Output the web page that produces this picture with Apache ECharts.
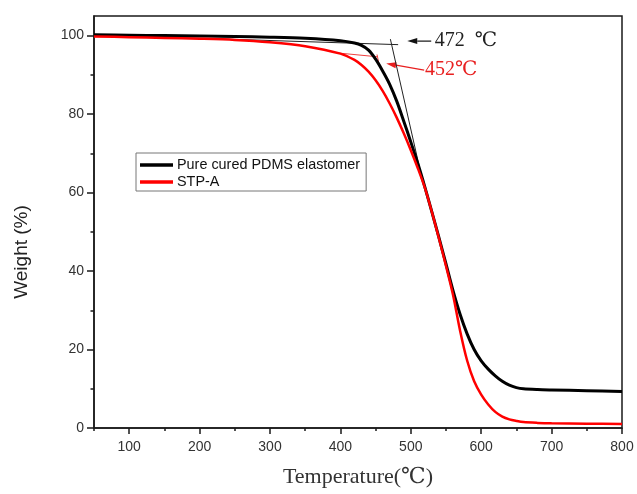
<!DOCTYPE html>
<html>
<head>
<meta charset="utf-8">
<script src="https://cdn.jsdelivr.net/npm/echarts@6/dist/echarts.min.js"></script>
<style>
html,body{margin:0;padding:0;background:#fff;}
#chart{width:637px;height:494px;}
</style>
</head>
<body>
<div id="chart"></div>
<script>
// ---- data ----
const temps = [50,100,150,200,250,300,350,400,420,430,440,450,460,470,480,490,500,510,520,530,540,550,560,570,580,590,600,610,620,630,640,650,660,680,700,750,800];
const pdms  = [100.2,100.1,100.0,99.9,99.8,99.6,99.3,98.7,98.1,97.5,96.3,94.0,91.0,87.6,83.3,78.2,72.9,67.4,61.4,55.0,48.5,41.8,35.0,29.0,24.0,20.0,17.1,15.0,13.3,11.9,10.9,10.3,10.0,9.8,9.7,9.5,9.3];
const stpa  = [99.8,99.6,99.4,99.2,98.9,98.3,97.3,95.4,93.8,92.5,90.8,88.6,85.9,82.7,79.1,75.1,70.8,66.2,61.2,55.0,48.3,41.3,33.9,24.8,17.2,11.9,8.5,6.0,4.1,2.9,2.2,1.8,1.5,1.3,1.2,1.1,1.0];
const seriesNames = ['Pure cured PDMS elastomer', 'STP-A'];

const xTicks = [100,200,300,400,500,600,700,800];
const xMinorTicks = [50,150,250,350,450,550,650,750];
const yTicks = [0,20,40,60,80,100];
const yMinorTicks = [10,30,50,70,90];

// onset tangent constructions
const pdmsTangentA = [[50,100.2],[482,97.7]];
const pdmsTangentB = [[471,99.1],[516,63.5]];
const stpaTangentA = [[395,95.6],[453,94.6]];
const stpaTangentB = [[452,95.2],[456,91.8]];

// onset annotations: [x, y] in data units
const pdmsOnsetText = '472  ℃';
const stpaOnsetText = '452℃';
const pdmsArrow = [[529,98.6],[495,98.6]];
const stpaArrow = [[519,91.2],[465,92.9]];
const pdmsTextPos = [534,98.8];
const stpaTextPos = [520,91.2];

// ---- build ----
const toPairs = (xs, ys) => xs.map((x, i) => [x, ys[i]]);
const chart = echarts.init(document.getElementById('chart'), null, {renderer: 'canvas'});

const axisColor = '#1a1a1a';
const labelFont = {fontFamily: 'Liberation Sans, Arial, sans-serif', fontSize: 14, color: '#333'};

const option = {
  animation: false,
  backgroundColor: '#fff',
  grid: {left: 94, right: 15, top: 16, bottom: 66, show: true, borderColor: axisColor, borderWidth: 1.5, backgroundColor: 'transparent'},
  legend: {
    data: seriesNames,
    orient: 'vertical',
    left: 136, top: 153,
    itemWidth: 33, itemHeight: 10, itemGap: 3,
    padding: [5, 6, 2, 4],
    borderColor: '#777', borderWidth: 1,
    icon: 'path://M0,0 L10,0 L10,1 L0,1 Z',
    textStyle: {fontFamily: 'Liberation Sans, Arial, sans-serif', fontSize: 14.4, color: '#111', padding: [0,0,0,-1]}
  },
  xAxis: [{
    type: 'value', min: 50, max: 800, position: 'bottom',
    name: 'Temperature(℃)', nameLocation: 'middle', nameGap: 38,
    nameTextStyle: {fontFamily: 'Liberation Serif, DejaVu Serif, serif', fontSize: 22, color: '#333'},
    axisLine: {show: true, onZero: false, lineStyle: {color: axisColor, width: 1.5}},
    axisTick: {show: true, inside: false, length: 6, customValues: xTicks, lineStyle: {color: axisColor, width: 1.5}},
    axisLabel: Object.assign({customValues: xTicks, margin: 12}, labelFont),
    splitLine: {show: false}
  }, {
    type: 'value', min: 50, max: 800, position: 'bottom',
    axisLine: {show: false},
    axisTick: {show: true, inside: false, length: 3, customValues: xMinorTicks, lineStyle: {color: axisColor, width: 1.5}},
    axisLabel: {show: false},
    splitLine: {show: false}
  }],
  yAxis: [{
    type: 'value', min: 0, max: 105, position: 'left',
    axisLine: {show: true, onZero: false, lineStyle: {color: axisColor, width: 1.5}},
    axisTick: {show: true, inside: false, length: 7, customValues: yTicks, lineStyle: {color: axisColor, width: 1.5}},
    axisLabel: Object.assign({customValues: yTicks, margin: 10}, labelFont),
    splitLine: {show: false}
  }, {
    type: 'value', min: 0, max: 105, position: 'left',
    axisLine: {show: false},
    axisTick: {show: true, inside: false, length: 3.5, customValues: yMinorTicks, lineStyle: {color: axisColor, width: 1.5}},
    axisLabel: {show: false},
    splitLine: {show: false}
  }],
  series: [
    {name: 'tA', type: 'line', data: pdmsTangentA, showSymbol: false, silent: true, lineStyle: {color: '#222', width: 1}, z: 1},
    {name: 'tB', type: 'line', data: pdmsTangentB, showSymbol: false, silent: true, lineStyle: {color: '#222', width: 1}, z: 1},
    {name: 'rA', type: 'line', data: stpaTangentA, showSymbol: false, silent: true, lineStyle: {color: '#f04040', width: 1}, z: 1},
    {name: 'rB', type: 'line', data: stpaTangentB, showSymbol: false, silent: true, lineStyle: {color: '#f04040', width: 1}, z: 1},
    {name: seriesNames[1], type: 'line', data: toPairs(temps, stpa), smooth: 0.3, showSymbol: false,
     lineStyle: {color: '#ff0000', width: 2.5}, itemStyle: {color: '#ff0000'}, z: 3},
    {name: seriesNames[0], type: 'line', data: toPairs(temps, pdms), smooth: 0.3, showSymbol: false,
     lineStyle: {color: '#000000', width: 3}, itemStyle: {color: '#000000'}, z: 2}
  ]
};
chart.setOption(option);

// annotations placed through the chart's own coordinate conversion
function px(p) { return chart.convertToPixel({xAxisIndex: 0, yAxisIndex: 0}, p); }
function arrow(from, to, color) {
  const a = px(from), b = px(to);
  const dx = b[0] - a[0], dy = b[1] - a[1];
  const len = Math.sqrt(dx*dx + dy*dy), ux = dx/len, uy = dy/len;
  const hl = 10, hw = 3;
  const base = [b[0] - ux*hl, b[1] - uy*hl];
  return [
    {type: 'line', shape: {x1: a[0], y1: a[1], x2: base[0], y2: base[1]}, style: {stroke: color, lineWidth: 1.2}, silent: true},
    {type: 'polygon', shape: {points: [b, [base[0] - uy*hw, base[1] + ux*hw], [base[0] + uy*hw, base[1] - ux*hw]]}, style: {fill: color}, silent: true}
  ];
}
const p1 = px(pdmsTextPos), p2 = px(stpaTextPos);
const graphics = [].concat(
  arrow(pdmsArrow[0], pdmsArrow[1], '#111'),
  arrow(stpaArrow[0], stpaArrow[1], '#e82020'),
  [
    {type: 'text', x: p1[0], y: p1[1], silent: true, style: {text: pdmsOnsetText, fill: '#222', font: '20px "Liberation Serif", "DejaVu Serif", serif', align: 'left', verticalAlign: 'middle'}},
    {type: 'text', x: p2[0], y: p2[1], silent: true, style: {text: stpaOnsetText, fill: '#e82020', font: '20px "Liberation Serif", "DejaVu Serif", serif', align: 'left', verticalAlign: 'middle'}},
    {type: 'text', x: 22, y: 252, rotation: Math.PI / 2, silent: true, style: {text: 'Weight (%)', fill: '#222', font: '19px "Liberation Sans", Arial, sans-serif', align: 'center', verticalAlign: 'middle'}}
  ]
);
chart.setOption({graphic: graphics});
</script>
</body>
</html>
